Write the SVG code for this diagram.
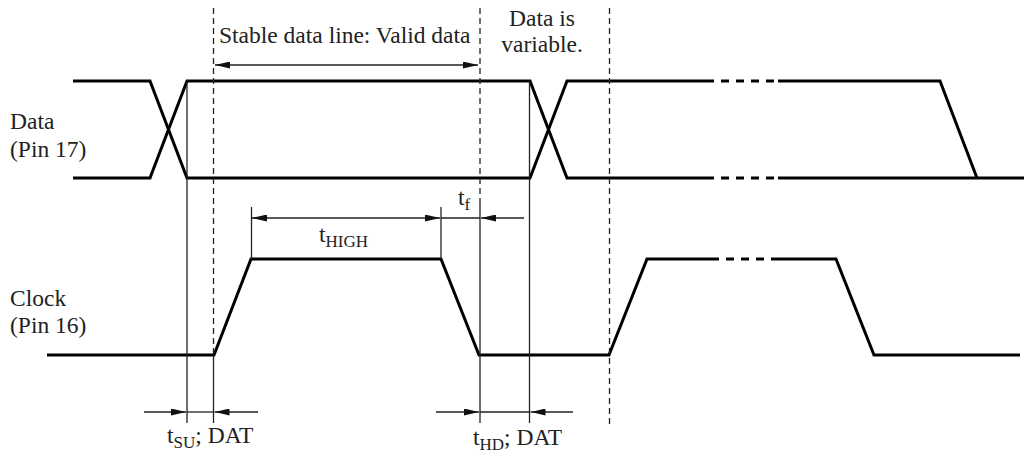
<svg xmlns="http://www.w3.org/2000/svg" width="1024" height="453" viewBox="0 0 1024 453">
<style>
.sig{fill:none;stroke:#000;stroke-width:3;stroke-linejoin:miter}
.sigd{fill:none;stroke:#000;stroke-width:3;stroke-dasharray:8 7}
.thin{fill:none;stroke:#222;stroke-width:1.3}
.dash{fill:none;stroke:#222;stroke-width:1.3;stroke-dasharray:6 4}
.dim{fill:none;stroke:#222;stroke-width:1.3}
.t{font-family:"Liberation Serif",Tinos,"Times New Roman",Times,"DejaVu Serif",serif;font-size:23.5px;fill:#222}
.sub{font-size:17px}
</style>
<defs>
<marker id="arr" markerUnits="userSpaceOnUse" markerWidth="15" markerHeight="7" refX="15" refY="3.5" orient="auto-start-reverse" viewBox="0 0 15 7">
<path d="M0,0 L15,3.5 L0,7 z" fill="#111"/>
</marker>
</defs>
<rect width="1024" height="453" fill="#fff"/>

<g id="data-label" class="t">
<text x="10" y="129">Data</text>
<text x="10" y="157">(Pin 17)</text>
</g>
<g id="clock-label" class="t">
<text x="10" y="306">Clock</text>
<text x="10" y="333">(Pin 16)</text>
</g>

<g id="data-signal">
<polyline class="sig" points="73,81 150,81 187,178 530,178 567,81 706,81"/>
<polyline class="sig" points="73,178 150,178 187,81 530,81 567,178 706,178"/>
<line class="sigd" x1="706" y1="81" x2="778" y2="81"/>
<line class="sigd" x1="706" y1="178" x2="778" y2="178"/>
<polyline class="sig" points="778,81 940,81 977,178"/>
<line class="sig" x1="778" y1="178" x2="1024" y2="178"/>
</g>

<g id="clock-signal">
<polyline class="sig" points="47,355 214,355 251,259 441,259 479,355 609,355 647,259 711,259"/>
<line class="sigd" x1="711" y1="259" x2="776" y2="259"/>
<polyline class="sig" points="776,259 836,259 874,355 1020,355"/>
</g>

<g id="guides">
<line class="dash" x1="213.5" y1="8" x2="213.5" y2="355"/>
<line class="thin" x1="213.5" y1="355" x2="213.5" y2="423"/>
<line class="dash" x1="480" y1="8" x2="480" y2="200"/>
<line class="thin" x1="480" y1="200" x2="480" y2="423"/>
<line class="dash" x1="609.5" y1="8" x2="609.5" y2="428"/>
<line class="thin" x1="187" y1="81" x2="187" y2="423"/>
<line class="thin" x1="529.5" y1="81" x2="529.5" y2="423"/>
<line class="thin" x1="251.5" y1="207" x2="251.5" y2="259"/>
<line class="thin" x1="441" y1="207" x2="441" y2="259"/>
</g>

<g id="connectors">
<line class="dim" x1="215" y1="65" x2="478" y2="65" marker-start="url(#arr)" marker-end="url(#arr)"/>
<line class="dim" x1="252" y1="218" x2="440" y2="218" marker-start="url(#arr)" marker-end="url(#arr)"/>
<line class="dim" x1="441" y1="218" x2="480" y2="218"/>
<line class="dim" x1="524" y1="218" x2="481" y2="218" marker-end="url(#arr)"/>
<line class="dim" x1="144" y1="412" x2="186" y2="412" marker-end="url(#arr)"/>
<line class="dim" x1="187" y1="412" x2="213" y2="412"/>
<line class="dim" x1="258" y1="412" x2="214.5" y2="412" marker-end="url(#arr)"/>
<line class="dim" x1="436" y1="412" x2="479" y2="412" marker-end="url(#arr)"/>
<line class="dim" x1="480" y1="412" x2="529" y2="412"/>
<line class="dim" x1="573" y1="412" x2="530.5" y2="412" marker-end="url(#arr)"/>
</g>

<g id="annotations" class="t">
<text x="219" y="43">Stable data line: Valid data</text>
<text x="542" y="26" text-anchor="middle">Data is</text>
<text x="542" y="52" text-anchor="middle">variable.</text>
<text x="319" y="242">t<tspan class="sub" dy="5">HIGH</tspan></text>
<text x="458" y="205">t<tspan class="sub" dy="5">f</tspan></text>
<text x="167" y="443">t<tspan class="sub" dy="5">SU</tspan><tspan dy="-5">; DAT</tspan></text>
<text x="473" y="445">t<tspan class="sub" dy="5">HD</tspan><tspan dy="-5">; DAT</tspan></text>
</g>
</svg>
